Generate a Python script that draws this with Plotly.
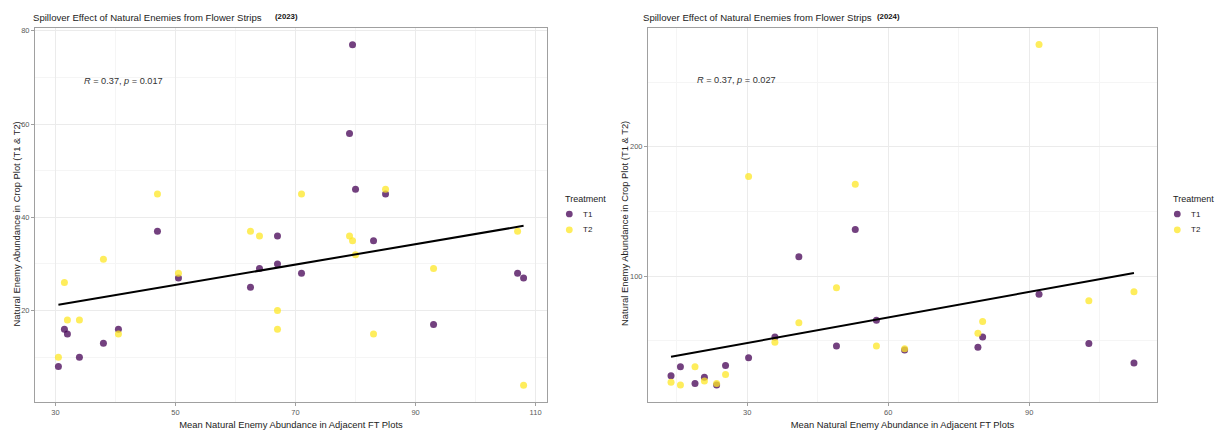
import numpy as np
import plotly.graph_objects as go

# ---------------- data ----------------
# 2023 panel
x23 = [30.5, 31.5, 32, 34, 38, 40.5, 47, 50.5, 62.5, 64, 67, 67, 71,
       79, 79.5, 80, 83, 85, 93, 107, 108]
t1_23 = [8, 16, 15, 10, 13, 16, 37, 27, 25, 29, 36, 30, 28,
         58, 77, 46, 35, 45, 17, 28, 27]
t2_23 = [10, 26, 18, 18, 31, 15, 45, 28, 37, 36, 20, 16, 45,
         36, 35, 32, 15, 46, 29, 37, 4]

# 2024 panel
x24 = [13.8, 15.8, 18.9, 20.9, 23.5, 25.4, 30.3, 35.9, 41, 49, 53, 57.5,
       63.5, 79.1, 80.1, 92.1, 102.7, 112.3]
t1_24 = [23, 30, 17, 22, 16, 31, 37, 53, 115, 46, 136, 66,
         43, 45, 53, 86, 48, 33]
t2_24 = [18, 16, 30, 19, 17, 24, 177, 49, 64, 91, 171, 46,
         44, 56, 65, 279, 81, 88]

titles = ["Spillover Effect of Natural Enemies from Flower Strips"] * 2
years = ["(2023)", "(2024)"]
stat_labels = ["<i>R</i> = 0.37, <i>p</i> = 0.017", "<i>R</i> = 0.37, <i>p</i> = 0.027"]
groups = ["T1", "T2"]
legend_title = "Treatment"

x_title = "Mean Natural Enemy Abundance in Adjacent FT Plots"
y_title = "Natural Enemy Abundance in Crop Plot (T1 &amp; T2)"

# ---------------- style ----------------
FONT = "Liberation Sans, Arial, Helvetica, sans-serif"
C_T1 = "#440154"
C_T2 = "#FDE725"
ALPHA = 0.75
W, H = 1217, 430


def px2x(p):
    return p / W


def py2y(p):
    return 1 - p / H


def blend(hexcol, a):
    r, g, b = (int(hexcol[i:i + 2], 16) for i in (1, 3, 5))
    r, g, b = (round(a * v + (1 - a) * 255) for v in (r, g, b))
    return f"rgb({r},{g},{b})"


fig = go.Figure()


def add_panel(xs, a, b, xa, ya):
    allx = list(xs) + list(xs)
    ally = list(a) + list(b)
    for name, ys, col in [(groups[0], a, C_T1), (groups[1], b, C_T2)]:
        fig.add_trace(go.Scatter(
            x=xs, y=ys, mode="markers", name=name,
            xaxis=xa, yaxis=ya,
            marker=dict(color=col, size=7, opacity=ALPHA, line=dict(width=0)),
            showlegend=False))
    k, c = np.polyfit(allx, ally, 1)
    lx = np.array([min(allx), max(allx)])
    fig.add_trace(go.Scatter(
        x=lx, y=k * lx + c, mode="lines", xaxis=xa, yaxis=ya,
        line=dict(color="black", width=2), showlegend=False, hoverinfo="skip"))


add_panel(x23, t1_23, t2_23, "x", "y")
add_panel(x24, t1_24, t2_24, "x2", "y2")

ydom = [py2y(405), py2y(27)]
axis_common = dict(
    showline=True, mirror=True, linecolor="#a0a0a0", linewidth=1,
    ticks="outside", ticklen=3, tickcolor="#a0a0a0", tickwidth=1,
    tickfont=dict(family=FONT, size=7.5, color="#5a5a5a"),
    showgrid=True, gridcolor="#ebebeb", gridwidth=1,
    zeroline=False,
)
minor_common = dict(showgrid=True, gridcolor="#f5f5f5", ticks="")
title_font = dict(family=FONT, size=9.4, color="#222222")

fig.update_layout(
    width=W, height=H,
    margin=dict(l=0, r=0, t=0, b=0),
    paper_bgcolor="white", plot_bgcolor="white",
    font=dict(family=FONT, color="#222222"),
    showlegend=False,
    xaxis=dict(domain=[px2x(35), px2x(547)], range=[26.6, 111.9],
               tickvals=[30, 50, 70, 90, 110],
               minor=dict(tickvals=[40, 60, 80, 100], **minor_common),
               title=dict(text=x_title, font=title_font, standoff=6),
               anchor="y", **axis_common),
    yaxis=dict(domain=ydom, range=[0.35, 80.65],
               tickvals=[20, 40, 60, 80],
               minor=dict(tickvals=[10, 30, 50, 70], **minor_common),
               anchor="x", **axis_common),
    xaxis2=dict(domain=[px2x(648), px2x(1157)], range=[8.9, 117.2],
                tickvals=[30, 60, 90],
                minor=dict(tickvals=[15, 45, 75, 105], **minor_common),
                title=dict(text=x_title, font=title_font, standoff=6),
                anchor="y2", **axis_common),
    yaxis2=dict(domain=ydom, range=[2.6, 292],
                tickvals=[100, 200],
                minor=dict(tickvals=[50, 150, 250], **minor_common),
                anchor="x2", **axis_common),
)

# y-axis titles
for xp in (16.5, 625):
    fig.add_annotation(xref="paper", yref="paper", x=px2x(xp), y=py2y(225),
                       text=y_title, textangle=-90, showarrow=False,
                       xanchor="center", yanchor="middle", font=title_font)

# plot titles
for i, tx in enumerate([31, 641]):
    fig.add_annotation(xref="paper", yref="paper", x=px2x(tx), y=py2y(17),
                       text=titles[i], showarrow=False, xanchor="left", yanchor="middle",
                       font=dict(family=FONT, size=9.6, color="#222"))
for i, tx in enumerate([273, 875]):
    fig.add_annotation(xref="paper", yref="paper", x=px2x(tx), y=py2y(16),
                       text="<b>" + years[i] + "</b>", showarrow=False,
                       xanchor="left", yanchor="middle",
                       font=dict(family=FONT, size=7.8, color="#111"))

# correlation labels
fig.add_annotation(xref="x", yref="y", x=34.4, y=69.3, text=stat_labels[0],
                   showarrow=False, xanchor="left", yanchor="middle",
                   font=dict(family=FONT, size=9.2, color="#333"))
fig.add_annotation(xref="x2", yref="y2", x=18.85, y=251.7, text=stat_labels[1],
                   showarrow=False, xanchor="left", yanchor="middle",
                   font=dict(family=FONT, size=9.2, color="#333"))

# legends (one per panel, drawn as keys + labels)
for lx in (563, 1171):
    fig.add_annotation(xref="paper", yref="paper", x=px2x(lx), y=py2y(200),
                       text=legend_title, showarrow=False, xanchor="left",
                       yanchor="middle", font=dict(family=FONT, size=9, color="#222"))
    for gname, col, ky in [(groups[0], C_T1, 215), (groups[1], C_T2, 231)]:
        cx = lx + 6.3
        r = 3.4
        fig.add_shape(type="circle", xref="paper", yref="paper",
                      x0=px2x(cx - r), x1=px2x(cx + r),
                      y0=py2y(ky + r), y1=py2y(ky - r),
                      fillcolor=blend(col, ALPHA), line=dict(width=0))
        fig.add_annotation(xref="paper", yref="paper", x=px2x(lx + 18), y=py2y(ky),
                           text=gname, showarrow=False, xanchor="left",
                           yanchor="middle", font=dict(family=FONT, size=8, color="#222"))

fig.write_html("out.html")
